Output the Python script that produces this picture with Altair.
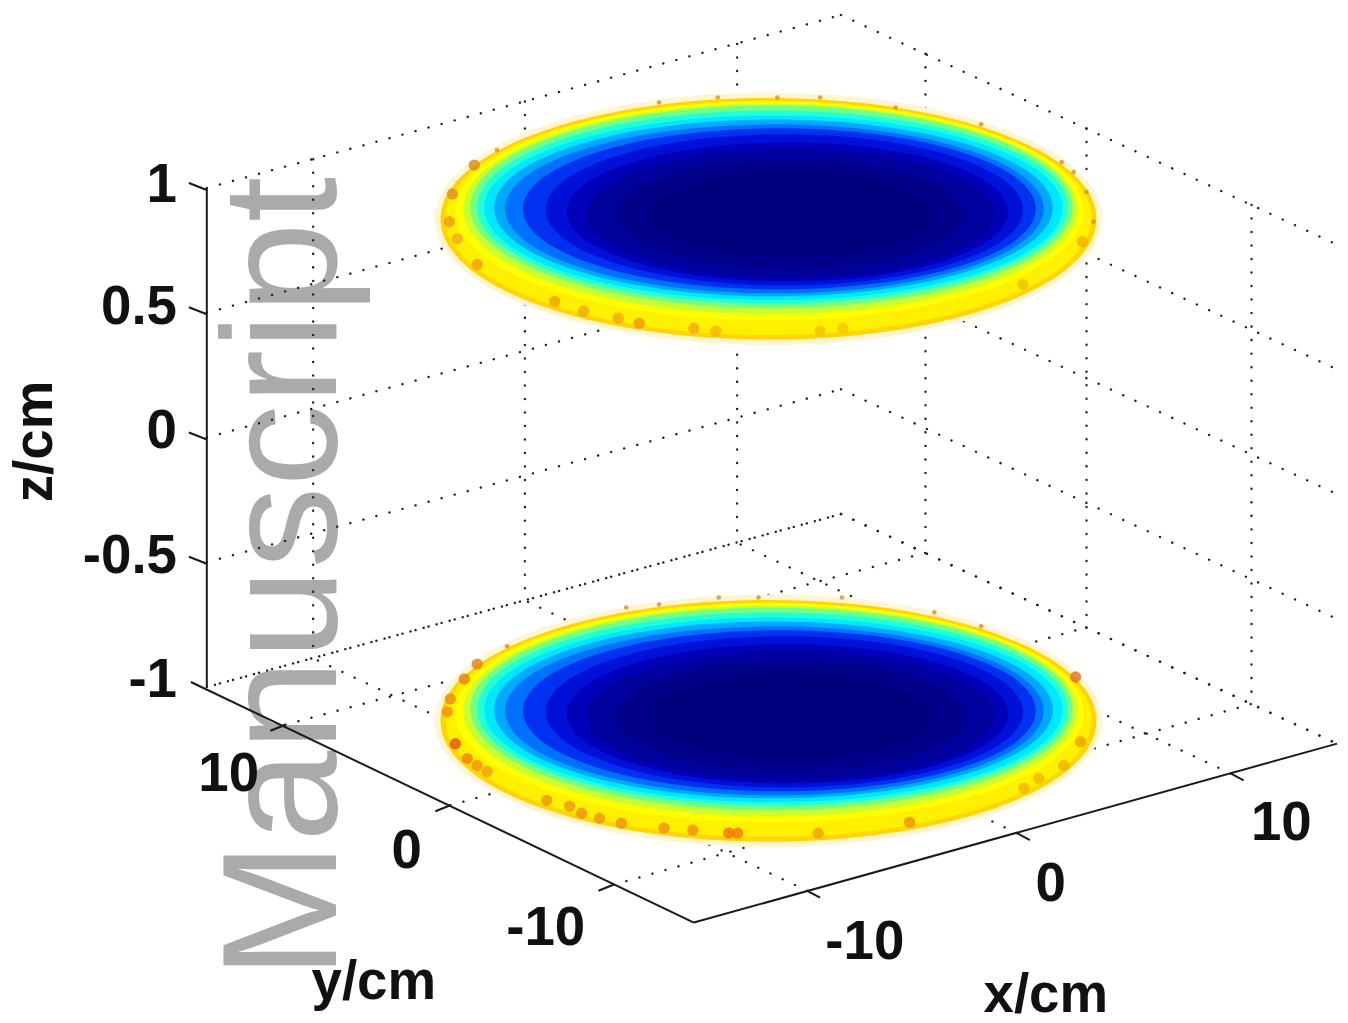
import altair as alt
import pandas as pd

Z_LEVELS = [0, 125.5, 251, 376.5, 502]
LEFT_WALL = [(208, 186), (846, 12)]
RIGHT_WALL = [(846, 12), (1345, 243)]
WALL_X = [315, 528, 741.5, 931, 1093, 1259]
WALL_TOP = [157, 99, 41, 51, 126, 203]
FLOOR_SEGMENTS = [
    (812, 893, 315, 659), (1023, 835, 528, 601), (1238, 775, 741.5, 543),
    (287, 726, 931, 553), (453, 807, 1093, 628), (617, 887, 1259, 705),
    (846, 514, 208, 688), (846, 514, 1345, 745),
]
AXIS_SEGMENTS = [
    (208, 186, 208, 688), (192, 683, 698, 925), (698, 925, 1345, 745),
    (208, 188, 190, 181), (208, 313, 190, 306), (208, 439, 190, 432),
    (208, 564, 190, 557),
    (287, 726, 272, 732), (453, 807, 438, 813), (617, 887, 602, 893),
    (812, 893, 825, 900), (1023, 835, 1036, 842), (1238, 775, 1251, 782),
]

DISK_SHIFT = [0, 505]
RING_A = [336, 330, 325, 316, 309, 303, 297, 291, 281, 271, 258, 240, 222, 205, 175, 140]
RING_B = [127, 121.5, 118, 110, 106, 102, 97, 93, 89, 85, 81, 76, 70, 65, 55, 42]
RING_X = [773, 773, 773, 774, 775, 776, 777, 778, 778, 779, 784, 789, 792, 795, 795, 795]
RING_Y = [217, 217, 216, 209, 207, 205, 205, 206, 206, 207, 207, 208, 210, 212, 212, 212]
RING_COLOR = ["#fff6d0", "#ffd400", "#fff000", "#ffff00", "#c8ff30", "#70ff88", "#20ffd8",
              "#00e8ff", "#00a8ff", "#0070ff", "#0030f0", "#0010d8", "#0000b8", "#00009c",
              "#000088", "#00007c"]

DOT_X = [558, 587, 622, 643, 698, 720, 825, 848, 480, 460, 452, 455, 477, 1089, 1029,
         458, 470, 480, 490, 550, 573, 585, 603, 625, 668, 697, 733, 742, 450, 453, 467, 480,
         915, 823, 1087, 1070, 1045, 1030, 1082]
DOT_Y = [300, 310, 317, 322, 327, 330, 330, 327, 263, 237, 220, 192, 163, 240, 283,
         745, 760, 767, 773, 802, 808, 815, 820, 825, 830, 832, 835, 835, 713, 700, 680, 665,
         824, 835, 743, 767, 780, 790, 678]
DOT_COLOR = ["#f0a000", "#f0a818", "#f0a818", "#ec9800", "#f0a818", "#f4b800", "#f4c400", "#f4c400",
             "#f0a010", "#f0a818", "#ec9c10", "#e09020", "#d88818", "#f0b000", "#f0c000",
             "#e84c10", "#f08000", "#f09010", "#f0a010", "#e89810", "#ec9810", "#ec9010", "#e89818",
             "#ec9010", "#ec9010", "#ec9010", "#f07000", "#f07800", "#ec9010", "#e88c10", "#e88010",
             "#e88018",
             "#f09000", "#f0a000", "#f0a000", "#f0b000", "#f0b800", "#f0b800", "#e07030"]
FLECK_X = [500, 663, 722, 782, 825, 901, 987, 1068, 1080, 1093, 1100,
           510, 630, 663, 723, 763, 847, 940, 987]
FLECK_Y = [148, 100, 95, 95, 95, 105, 122, 160, 170, 190, 220,
           647, 608, 605, 598, 598, 598, 613, 627]

TEXT = ["1", "0.5", "0", "-0.5", "-1", "10", "0", "-10", "-10", "0", "10", "y/cm", "x/cm"]
TEXT_X = [178, 178, 178, 178, 178, 230, 409, 549, 870, 1057, 1289, 376, 1052]
TEXT_Y = [200, 323, 448, 573, 698, 793, 870, 948, 962, 903, 842, 1002, 1015]
TEXT_ALIGN = ["right"] * 5 + ["center"] * 8

X = alt.X("x:Q", scale=alt.Scale(domain=[8, 1348], nice=False, zero=False), axis=None)
Y = alt.Y("y:Q", scale=alt.Scale(domain=[1018, 8], nice=False, zero=False), axis=None)

grid = []
for off in Z_LEVELS:
    for wall in (LEFT_WALL, RIGHT_WALL):
        grid.append(dict(x=wall[0][0], y=wall[0][1] + off, x2=wall[1][0], y2=wall[1][1] + off))
for vx, vt in zip(WALL_X, WALL_TOP):
    grid.append(dict(x=vx, y=vt, x2=vx, y2=vt + Z_LEVELS[-1]))
for a, b, c, d in FLOOR_SEGMENTS:
    grid.append(dict(x=a, y=b, x2=c, y2=d))
grid_df = pd.DataFrame(grid)
axis_df = pd.DataFrame(AXIS_SEGMENTS, columns=["x", "y", "x2", "y2"])

rings = []
for shift in DISK_SHIFT:
    for a, b, cx, cy, col in zip(RING_A, RING_B, RING_X, RING_Y, RING_COLOR):
        r = round(b / a, 4)
        rings.append(dict(
            x=cx, y=cy + shift, color=col, size=(2 * a) ** 2,
            path=f"M-1,0A1,{r} 0 1,0 1,0A1,{r} 0 1,0 -1,0Z",
        ))
ring_df = pd.DataFrame(rings)
dot_df = pd.DataFrame(dict(x=DOT_X, y=DOT_Y, color=DOT_COLOR))
fleck_df = pd.DataFrame(dict(x=FLECK_X, y=FLECK_Y))
text_df = pd.DataFrame(dict(x=TEXT_X, y=TEXT_Y, t=TEXT, align=TEXT_ALIGN))

FONT = "Liberation Sans"

water = alt.Chart(pd.DataFrame(dict(x=[338], y=[578], t=["Manuscript"]))).mark_text(
    font=FONT, fontSize=165, color="#aaaaaa", angle=270, align="center", baseline="alphabetic"
).encode(x=X, y=Y, text="t:N")

grid_layer = alt.Chart(grid_df).mark_rule(
    color="#222222", strokeWidth=2.4, strokeDash=[0.1, 13.5], strokeCap="round"
).encode(x=X, y=Y, x2="x2:Q", y2="y2:Q")

axis_layer = alt.Chart(axis_df).mark_rule(color="#1a1a1a", strokeWidth=2).encode(
    x=X, y=Y, x2="x2:Q", y2="y2:Q"
)

ring_layer = alt.Chart(ring_df).mark_point(filled=True, opacity=1, strokeWidth=0).encode(
    x=X, y=Y,
    shape=alt.Shape("path:N", scale=None),
    size=alt.Size("size:Q", scale=None),
    color=alt.Color("color:N", scale=None),
)

dot_layer = alt.Chart(dot_df).mark_circle(size=130, opacity=0.8).encode(
    x=X, y=Y, color=alt.Color("color:N", scale=None)
)
fleck_layer = alt.Chart(fleck_df).mark_circle(size=22, opacity=0.75, color="#d88818").encode(x=X, y=Y)

labels = [
    alt.Chart(text_df[text_df["align"] == al]).mark_text(
        font=FONT, fontSize=55, fontWeight="bold", color="#111111", align=al, baseline="alphabetic"
    ).encode(x=X, y=Y, text="t:N")
    for al in ("right", "center")
]
z_title = alt.Chart(pd.DataFrame(dict(x=[52], y=[441], t=["z/cm"]))).mark_text(
    font=FONT, fontSize=55, fontWeight="bold", color="#111111", angle=270, align="center",
    baseline="alphabetic"
).encode(x=X, y=Y, text="t:N")

chart = alt.layer(
    water, grid_layer, axis_layer, ring_layer, dot_layer, fleck_layer, *labels, z_title
).properties(width=1340, height=1010, padding=0).configure_view(stroke=None)

chart.save("out.html", embed_options={"renderer": "svg", "actions": False})
